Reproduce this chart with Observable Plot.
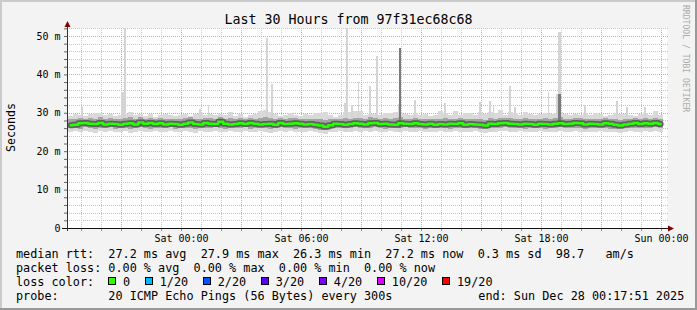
<!DOCTYPE html>
<html><head><meta charset="utf-8">
<script src="https://cdn.jsdelivr.net/npm/d3@7"></script>
<script src="https://cdn.jsdelivr.net/npm/@observablehq/plot@0.6"></script>
<style>
html,body{margin:0;padding:0;background:#f3f3f3;}
#chart{width:697px;height:310px;position:relative;overflow:hidden;}
</style></head><body><div id="chart"></div>
<script>
const title = "Last 30 Hours from 97f31ec68c68";
const yLabel = "Seconds";
const watermark = "RRDTOOL / TOBI OETIKER";
const rangeStart = "2025-12-26T18:17:51Z";
const rangeEnd = "2025-12-28T00:17:51Z";
const binStart = "2025-12-26T18:20:00Z";
const binMinutes = 15;
const probeMinutes = 5;

// median rtt (ms) per 15-minute bin
const median = [
26.9,27.0,27.4,27.5,27.3,27.2,27.5,27.1,27.3,27.2,
27.0,27.3,27.4,27.1,27.6,27.3,27.5,27.2,27.4,27.1,
27.3,27.2,27.0,27.3,27.6,27.2,27.1,27.5,27.3,27.2,
27.8,27.3,27.1,27.2,27.4,27.2,27.5,27.3,27.1,27.2,
27.3,27.0,27.5,27.2,27.3,27.4,27.3,27.1,27.2,27.0,
26.8,26.5,26.9,27.3,27.2,27.0,27.2,27.4,27.3,27.1,
27.4,27.5,27.2,27.3,27.1,27.0,27.4,27.3,27.2,27.4,
27.2,27.1,27.3,27.0,27.2,27.1,27.3,27.2,27.4,27.0,
27.2,27.1,27.0,26.8,27.3,27.2,27.4,27.5,27.3,27.2,
27.1,27.3,27.2,27.0,27.3,27.2,27.1,27.3,27.4,27.2,
27.3,27.5,27.4,27.1,27.3,27.2,27.1,27.4,27.3,27.0,
26.8,27.1,27.3,27.5,27.2,27.4,27.3,27.5,27.2
];
// lowest ping per bin
const lo = [
25.0,25.2,24.9,25.3,25.1,24.8,25.2,25.0,25.3,24.9,
25.1,25.2,24.8,25.0,25.3,25.1,24.9,25.2,25.0,25.1,
25.3,24.9,25.0,25.2,25.1,24.8,25.2,25.0,25.1,25.3,
25.0,24.9,25.2,25.1,25.0,25.3,24.9,25.1,25.2,25.0,
24.8,25.1,25.3,25.0,25.2,24.9,25.1,25.0,25.2,24.9,
24.7,24.6,24.9,25.1,25.2,25.0,25.1,25.3,25.0,25.2,
25.1,25.3,25.0,24.9,25.2,25.1,25.0,25.3,25.1,25.0,
25.2,24.9,25.1,25.0,25.2,25.1,24.9,25.2,25.0,25.1,
25.0,25.2,24.9,24.8,25.1,25.0,25.2,25.3,25.0,25.1,
25.2,24.9,25.1,25.0,25.2,24.9,25.0,25.1,25.3,25.0,
25.1,25.2,25.0,24.9,25.1,25.0,25.2,25.1,24.9,25.0,
24.8,25.1,25.2,25.0,25.1,25.2,25.0,25.3,25.1
];
// lower edge of the dense smoke
const midLo = [
26.0,26.1,25.9,26.2,26.0,25.8,26.1,26.0,26.2,25.9,
26.0,26.1,25.9,26.0,26.2,26.0,25.9,26.1,26.0,26.1,
26.2,25.9,26.0,26.1,26.0,25.8,26.1,26.0,26.0,26.2,
26.0,25.9,26.1,26.0,26.0,26.2,25.9,26.0,26.1,26.0,
25.8,26.0,26.2,26.0,26.1,25.9,26.0,26.0,26.1,25.8,
25.6,25.5,25.8,26.0,26.1,26.0,26.0,26.2,26.0,26.1,
26.0,26.2,26.0,25.9,26.1,26.0,26.0,26.2,26.0,26.0,
26.1,25.9,26.0,26.0,26.1,26.0,25.9,26.1,26.0,26.0,
26.0,26.1,25.8,25.7,26.0,26.0,26.1,26.2,26.0,26.0,
26.1,25.9,26.0,26.0,26.1,25.9,26.0,26.0,26.2,26.0,
26.0,26.1,26.0,25.9,26.0,26.0,26.1,26.0,25.9,25.9,
25.7,26.0,26.1,26.0,26.0,26.1,26.0,26.2,26.0
];
// upper edge of the dense smoke
const midHi = [
28.3,28.5,28.6,28.4,28.7,28.5,28.8,28.3,28.6,28.4,
28.5,28.7,28.8,28.4,28.8,28.5,28.7,28.3,28.6,28.4,
28.5,28.4,28.3,28.6,28.8,28.4,28.5,28.7,28.6,28.4,
28.9,28.5,28.6,28.4,28.6,28.4,28.7,28.5,28.6,28.8,
28.7,28.3,28.7,28.4,28.6,28.6,28.5,28.3,28.5,28.4,
28.3,28.0,28.3,28.5,28.4,28.6,28.5,28.7,28.6,28.4,
28.8,28.7,28.5,28.6,28.4,28.6,28.9,28.5,28.4,28.6,
28.4,28.3,28.5,28.3,28.5,28.6,28.5,28.4,28.6,28.3,
28.4,28.3,28.5,28.1,28.6,28.5,28.6,28.7,28.6,28.5,
28.3,28.6,28.4,28.3,28.5,28.6,28.3,28.7,28.8,28.4,
28.5,28.7,28.6,28.4,28.5,28.4,28.3,28.6,28.5,28.3,
28.1,28.4,28.5,28.7,28.4,28.6,28.5,28.7,28.4
];
// highest ping per bin (outside the single-probe spikes)
const hi = [
29.2,29.6,29.4,29.1,29.8,30.0,30.0,29.3,29.6,29.1,
29.5,29.8,30.3,29.4,29.8,29.2,29.6,29.0,29.4,29.7,
29.3,29.1,29.5,29.8,29.2,29.6,29.9,29.5,29.7,29.4,
29.7,29.3,30.3,29.2,29.6,29.0,29.4,29.8,30.5,30.7,
30.2,29.6,29.2,29.5,30.0,29.3,29.1,29.6,29.4,30.0,
30.0,30.3,29.3,29.0,29.5,30.1,30.3,30.4,30.5,29.4,
29.8,29.7,29.5,29.9,29.9,30.2,30.0,29.6,29.3,29.9,
29.4,29.6,29.2,29.5,30.4,30.0,29.4,30.4,29.5,30.0,
30.0,29.4,30.1,29.6,30.2,30.0,30.8,29.5,30.2,30.0,
29.4,30.2,29.6,29.3,29.7,29.9,29.6,30.0,30.3,29.8,
29.4,29.6,29.5,30.0,29.3,30.0,29.6,29.2,29.5,30.0,
29.6,29.8,29.4,29.2,29.7,30.0,29.4,30.5,29.5
];
// single probe rounds with high pings
const spikeTimes = [
"2025-12-26T19:00Z","2025-12-26T21:00Z","2025-12-26T21:05Z","2025-12-26T21:10Z",
"2025-12-27T00:55Z","2025-12-27T01:20Z","2025-12-27T04:15Z","2025-12-27T04:30Z",
"2025-12-27T08:10Z","2025-12-27T08:15Z","2025-12-27T08:30Z","2025-12-27T08:50Z",
"2025-12-27T09:25Z","2025-12-27T09:45Z","2025-12-27T10:50Z","2025-12-27T10:55Z",
"2025-12-27T11:40Z","2025-12-27T13:10Z","2025-12-27T14:55Z","2025-12-27T15:25Z",
"2025-12-27T15:35Z","2025-12-27T16:25Z","2025-12-27T16:40Z","2025-12-27T18:20Z",
"2025-12-27T18:45Z","2025-12-27T18:50Z","2025-12-27T18:55Z","2025-12-27T20:10Z",
"2025-12-27T21:45Z","2025-12-27T22:15Z","2025-12-27T23:10Z"
];
const spikeMax = [
31.6,35.5,35.5,52.0,
31.0,32.0,49.5,37.5,
32.5,52.0,31.9,38.0,
37.1,44.9,32.3,46.9,
33.4,32.6,32.8,33.0,
31.8,37.0,31.5,35.5,
35.0,51.0,51.0,31.9,
33.0,31.6,31.5
];
const spikeMid = [
null,null,null,null,
null,null,null,null,
null,null,null,null,
null,null,null,46.9,
null,null,null,null,
null,null,null,null,
null,35.0,35.0,null,
null,null,null
];

const yTicks = [0,10,20,30,40,50];
const yTickLabels = ["0","10 m","20 m","30 m","40 m","50 m"];
const xTicks = ["2025-12-27T00:00Z","2025-12-27T06:00Z","2025-12-27T12:00Z","2025-12-27T18:00Z","2025-12-28T00:00Z"];
const xTickLabels = ["Sat 00:00","Sat 06:00","Sat 12:00","Sat 18:00","Sun 00:00"];

const rttLine = "median rtt:  27.2 ms avg  27.9 ms max  26.3 ms min  27.2 ms now  0.3 ms sd  98.7   am/s";
const lossLine = "packet loss: 0.00 % avg  0.00 % max  0.00 % min  0.00 % now";
const lossColorTitle = "loss color:";
const lossLabels = ["0","1/20","2/20","3/20","4/20","10/20","19/20"];
const lossColors = ["#26ff00","#00b8ff","#0059ff","#5e00ff","#7e00ff","#dd00ff","#ff0000"];
const probeLine = "probe:       20 ICMP Echo Pings (56 Bytes) every 300s";
const endLine = "end: Sun Dec 28 00:17:51 2025";

// ---- build tables ----
const t0 = new Date(rangeStart), t1 = new Date(rangeEnd);
const binMs = binMinutes * 60000;
const bins = median.map((m, i) => {
  const a = new Date(Date.parse(binStart) + i * binMs);
  const b = new Date(+a + binMs);
  return {a, b, c: new Date(+a + binMs / 2), median: m, lo: lo[i], midLo: midLo[i], midHi: midHi[i], hi: hi[i]};
});
const spikes = spikeTimes.map((s, i) => {
  const a = new Date(s);
  const k = Math.max(0, Math.min(bins.length - 1, Math.floor((a - Date.parse(binStart)) / binMs)));
  return {a, b: new Date(+a + probeMinutes * 60000), max: spikeMax[i], mid: spikeMid[i], base: bins[k].lo, midBase: bins[k].midLo};
});
const hours = d3.utcHour.range(t0, t1);
const minorHours = hours.filter(d => d.getUTCHours() % 3 !== 0);
const majorHours = hours.filter(d => d.getUTCHours() % 3 === 0);
const yMax = 52.08;
const minorY = d3.range(2, yMax, 2).filter(v => v % 10 !== 0);
const majorY = [10, 20, 30, 40, 50];
const allY = d3.range(0, yMax, 2);
const xTickDates = xTicks.map(s => new Date(s));

const FONT = "'DejaVu Sans Mono', monospace";
const gridGrey = "#c6c6c6", gridRed = "#f39a9a";

const svg = Plot.plot({
  width: 697, height: 310,
  marginLeft: 67, marginRight: 30, marginTop: 28, marginBottom: 82,
  style: {fontFamily: FONT, fontSize: "10px", background: "#f3f3f3", color: "#000", overflow: "visible"},
  x: {type: "utc", domain: [t0, t1]},
  y: {domain: [0, yMax]},
  marks: [
    Plot.frame({fill: "#ffffff", stroke: null}),
    Plot.ruleY(minorY, {stroke: gridGrey, strokeDasharray: "1,1", insetRight: -2, shapeRendering: "crispEdges"}),
    Plot.ruleX(minorHours, {stroke: gridGrey, strokeDasharray: "1,1", shapeRendering: "crispEdges"}),
    Plot.ruleY(majorY, {stroke: gridRed, strokeDasharray: "1,1", insetRight: -2, shapeRendering: "crispEdges"}),
    Plot.ruleX(majorHours, {stroke: gridRed, strokeDasharray: "1,1", shapeRendering: "crispEdges"}),
    // smoke
    Plot.rect(bins, {x1: "a", x2: "b", y1: "lo", y2: "hi", fill: "#d9d9d9", shapeRendering: "crispEdges"}),
    Plot.rect(spikes, {x1: "a", x2: "b", y1: "base", y2: "max", fill: "#d4d4d4", shapeRendering: "crispEdges"}),
    Plot.rect(bins, {x1: "a", x2: "b", y1: "midLo", y2: "midHi", fill: "#a4a4a4", shapeRendering: "crispEdges"}),
    Plot.rect(spikes.filter(d => d.mid != null), {x1: "a", x2: "b", y1: "midBase", y2: "mid", fill: "#7a7a7a", shapeRendering: "crispEdges"}),
    Plot.line(bins, {x: "c", y: "median", curve: "step", stroke: "#555", strokeWidth: 6, strokeOpacity: 0.85}),
    Plot.line(bins, {x: "c", y: "median", curve: "step", stroke: lossColors[0], strokeWidth: 2.5}),
    // ticks
    Plot.axisX(minorHours, {tickSize: 3, text: null, stroke: "#999", label: null}),
    Plot.axisX(majorHours, {tickSize: 3, text: null, stroke: "#f06060", label: null}),
    Plot.axisY(allY, {tickSize: 3, text: null, stroke: "#666", label: null}),
    // axis lines
    Plot.ruleY([0], {stroke: "#111", insetLeft: -5, insetRight: -2}),
    Plot.ruleX([t0], {stroke: "#333", insetTop: -2, insetBottom: -3}),
    // labels
    Plot.axisX(xTickDates, {tickSize: 0, tickPadding: 6, label: null, fontFamily: FONT, fontSize: 10, fill: "#000",
      tickFormat: d => xTickLabels[xTickDates.findIndex(t => +t === +d)]}),
    Plot.axisY(yTicks, {tickSize: 0, tickPadding: 7, label: null, fontFamily: FONT, fontSize: 10, fill: "#000",
      tickFormat: d => yTickLabels[yTicks.indexOf(d)]})
  ]
});
document.getElementById("chart").append(svg);

const X = svg.scale("x"), Y = svg.scale("y");
const g = d3.select(svg);
const ax = Math.round(X.apply(t0)) + 0.5;
const ay = Math.round(Y.apply(0)) + 0.5;
const frameTop = Y.range[1], frameRight = X.range[1];
// arrows
g.append("polygon").attr("points", `${ax - 3},${frameTop - 1} ${ax + 3},${frameTop - 1} ${ax},${frameTop - 7}`).attr("fill", "#7f0000");
g.append("polygon").attr("points", `${frameRight + 1},${ay - 3} ${frameRight + 1},${ay + 3} ${frameRight + 7},${ay}`).attr("fill", "#7f0000");
// borders
g.append("rect").attr("x", 0).attr("y", 0).attr("width", 697).attr("height", 2).attr("fill", "#cbcbcb");
g.append("rect").attr("x", 0).attr("y", 0).attr("width", 2).attr("height", 310).attr("fill", "#cbcbcb");
g.append("rect").attr("x", 0).attr("y", 308).attr("width", 697).attr("height", 2).attr("fill", "#999999");
g.append("rect").attr("x", 695).attr("y", 0).attr("width", 2).attr("height", 310).attr("fill", "#999999");

function txt(s, x, y, size, opts = {}) {
  const t = g.append("text").attr("font-family", FONT).attr("font-size", size)
    .attr("fill", opts.fill || "#000").attr("text-anchor", opts.anchor || "start")
    .style("white-space", "pre").attr("xml:space", "preserve").text(s);
  if (opts.transform) t.attr("transform", opts.transform);
  else t.attr("x", x).attr("y", y);
  return t;
}
txt(title, 348.5, 24, 13.3, {anchor: "middle"});
txt(yLabel, 0, 0, 11.6, {anchor: "middle", transform: "translate(15,127.5) rotate(-90)"});
txt(watermark, 0, 0, 8.1, {fill: "#ababab", transform: "translate(683,5) rotate(90)"});

const LX = 16, LF = 11.8, CW = 7.105;
txt(rttLine, LX, 257.7, LF);
txt(lossLine, LX, 271.7, LF);
txt(lossColorTitle, LX, 285.7, LF);
let cur = LX + 13 * CW;
lossLabels.forEach((lab, i) => {
  g.append("rect").attr("x", Math.round(cur) + 0.5).attr("y", 277.5).attr("width", 7).attr("height", 7)
    .attr("fill", lossColors[i]).attr("stroke", "#000").attr("stroke-width", 1);
  txt(lab, cur + 2 * CW + 0.4, 285.7, LF);
  cur += (lab.length + 4) * CW + 1.2;
});
txt(probeLine, LX, 299.7, LF);
txt(endLine, 478.3, 299.7, LF);
</script></body></html>
